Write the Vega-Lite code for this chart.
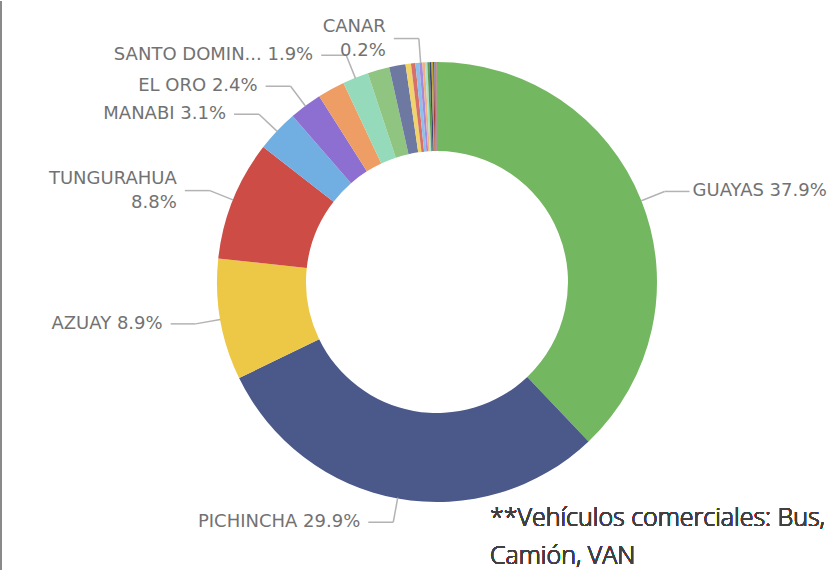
{
  "$schema": "https://vega.github.io/schema/vega-lite/v6.json",
  "width": 832,
  "height": 571,
  "autosize": {"type": "fit", "contains": "padding"},
  "padding": 0,
  "background": "white",
  "view": {"stroke": null},
  "config": {"text": {"lineBreak": "\n"}},
  "data": {
    "values": [
      {"name": "GUAYAS", "value": 37.9, "label": "GUAYAS 37.9%"},
      {"name": "PICHINCHA", "value": 29.9, "label": "PICHINCHA 29.9%"},
      {"name": "AZUAY", "value": 8.9, "label": "AZUAY 8.9%"},
      {"name": "TUNGURAHUA", "value": 8.8, "label": "TUNGURAHUA\n8.8%"},
      {"name": "MANABI", "value": 3.1, "label": "MANABI 3.1%"},
      {"name": "EL ORO", "value": 2.4, "label": "EL ORO 2.4%"},
      {"name": "LOJA", "value": 2.0, "label": ""},
      {"name": "SANTO DOMINGO", "value": 1.9, "label": "SANTO DOMIN... 1.9%"},
      {"name": "IMBABURA", "value": 1.6, "label": ""},
      {"name": "CHIMBORAZO", "value": 1.2, "label": ""},
      {"name": "COTOPAXI", "value": 0.4, "label": ""},
      {"name": "LOS RIOS", "value": 0.32, "label": ""},
      {"name": "ESMERALDAS", "value": 0.28, "label": ""},
      {"name": "CANAR", "value": 0.22, "label": "CANAR\n0.2%"},
      {"name": "SANTA ELENA", "value": 0.19, "label": ""},
      {"name": "CARCHI", "value": 0.18, "label": ""},
      {"name": "SUCUMBIOS", "value": 0.16, "label": ""},
      {"name": "ORELLANA", "value": 0.14, "label": ""},
      {"name": "BOLIVAR", "value": 0.11, "label": ""},
      {"name": "NAPO", "value": 0.1, "label": ""},
      {"name": "PASTAZA", "value": 0.09, "label": ""},
      {"name": "MORONA SANTIAGO", "value": 0.06, "label": ""},
      {"name": "ZAMORA CHINCHIPE", "value": 0.04, "label": ""}
    ]
  },
  "layer": [
    {
      "mark": {"type": "rule", "color": "#8a8a8a", "strokeWidth": 2},
      "encoding": {
        "x": {"datum": -436, "type": "quantitative", "scale": {"domain": [-437, 395], "nice": false, "zero": false}, "axis": null},
        "y": {"datum": 282, "type": "quantitative", "scale": {"domain": [-289, 282], "nice": false, "zero": false}, "axis": null},
        "y2": {"datum": -289}
      }
    },
    {
      "mark": {"type": "arc", "radius": 220, "innerRadius": 131},
      "encoding": {
        "x": {"datum": 0, "type": "quantitative", "scale": {"domain": [-437, 395], "nice": false, "zero": false}, "axis": null},
        "y": {"datum": 0, "type": "quantitative", "scale": {"domain": [-289, 282], "nice": false, "zero": false}, "axis": null},
        "theta": {"field": "value", "type": "quantitative", "stack": true},
        "order": {"field": "value", "sort": "descending"},
        "color": {
          "field": "name", "type": "nominal", "legend": null,
          "scale": {
            "domain": ["GUAYAS", "PICHINCHA", "AZUAY", "TUNGURAHUA", "MANABI", "EL ORO", "LOJA", "SANTO DOMINGO", "IMBABURA", "CHIMBORAZO", "COTOPAXI", "LOS RIOS", "ESMERALDAS", "CANAR", "SANTA ELENA", "CARCHI", "SUCUMBIOS", "ORELLANA", "BOLIVAR", "NAPO", "PASTAZA", "MORONA SANTIAGO", "ZAMORA CHINCHIPE"],
            "range": ["#73B761", "#4A588A", "#ECC846", "#CD4C46", "#71AFE2", "#8D6FD1", "#EE9E64", "#95DABB", "#8FC581", "#6E79A1", "#F0D36B", "#D7706B", "#8DBFE8", "#A48CDA", "#F1B183", "#AAE1C9", "#5C9A4E", "#3B466E", "#BDA038", "#A43D38", "#5A8CB5", "#7159A7", "#BE7E50"]
          }
        }
      }
    },
    {
      "transform": [
        {"joinaggregate": [{"op": "sum", "field": "value", "as": "total"}]},
        {"stack": "value", "groupby": [], "sort": [{"field": "value", "order": "descending"}], "as": ["c0", "c1"]},
        {"filter": "datum.label != ''"},
        {"calculate": "PI*(datum.c0+datum.c1)/datum.total", "as": "a"},
        {"calculate": "220*sin(datum.a)", "as": "px0"},
        {"calculate": "220*cos(datum.a)", "as": "py0"},
        {"calculate": "245*sin(datum.a)", "as": "px1"},
        {"calculate": "245*cos(datum.a)", "as": "py1"}
      ],
      "mark": {"type": "rule", "color": "#b3b3b3", "strokeWidth": 1.5},
      "encoding": {
        "x": {"field": "px0", "type": "quantitative", "scale": {"domain": [-437, 395], "nice": false, "zero": false}, "axis": null},
        "y": {"field": "py0", "type": "quantitative", "scale": {"domain": [-289, 282], "nice": false, "zero": false}, "axis": null},
        "x2": {"field": "px1"},
        "y2": {"field": "py1"}
      }
    },
    {
      "transform": [
        {"joinaggregate": [{"op": "sum", "field": "value", "as": "total"}]},
        {"stack": "value", "groupby": [], "sort": [{"field": "value", "order": "descending"}], "as": ["c0", "c1"]},
        {"filter": "datum.label != ''"},
        {"calculate": "PI*(datum.c0+datum.c1)/datum.total", "as": "a"},
        {"calculate": "245*sin(datum.a)", "as": "px1"},
        {"calculate": "245*cos(datum.a)", "as": "py1"},
        {"calculate": "datum.px1 + (sin(datum.a) < 0 ? -25 : 25)", "as": "px2"}
      ],
      "mark": {"type": "rule", "color": "#b3b3b3", "strokeWidth": 1.5},
      "encoding": {
        "x": {"field": "px1", "type": "quantitative", "scale": {"domain": [-437, 395], "nice": false, "zero": false}, "axis": null},
        "y": {"field": "py1", "type": "quantitative", "scale": {"domain": [-289, 282], "nice": false, "zero": false}, "axis": null},
        "x2": {"field": "px2"}
      }
    },
    {
      "transform": [
        {"joinaggregate": [{"op": "sum", "field": "value", "as": "total"}]},
        {"stack": "value", "groupby": [], "sort": [{"field": "value", "order": "descending"}], "as": ["c0", "c1"]},
        {"filter": "datum.label != ''"},
        {"calculate": "PI*(datum.c0+datum.c1)/datum.total", "as": "a"},
        {"filter": "sin(datum.a) < 0"},
        {"calculate": "245*sin(datum.a) - 33", "as": "tx"},
        {"calculate": "245*cos(datum.a) + (indexof(datum.label, '\\n') >= 0 ? 12 : 0)", "as": "ty"}
      ],
      "mark": {"type": "text", "align": "right", "baseline": "middle", "font": "DejaVu Sans", "fontSize": 18, "color": "#727272", "lineHeight": 24},
      "encoding": {
        "x": {"field": "tx", "type": "quantitative", "scale": {"domain": [-437, 395], "nice": false, "zero": false}, "axis": null},
        "y": {"field": "ty", "type": "quantitative", "scale": {"domain": [-289, 282], "nice": false, "zero": false}, "axis": null},
        "text": {"field": "label"}
      }
    },
    {
      "transform": [
        {"joinaggregate": [{"op": "sum", "field": "value", "as": "total"}]},
        {"stack": "value", "groupby": [], "sort": [{"field": "value", "order": "descending"}], "as": ["c0", "c1"]},
        {"filter": "datum.label != ''"},
        {"calculate": "PI*(datum.c0+datum.c1)/datum.total", "as": "a"},
        {"filter": "sin(datum.a) >= 0"},
        {"calculate": "245*sin(datum.a) + 28", "as": "tx"},
        {"calculate": "245*cos(datum.a)", "as": "ty"}
      ],
      "mark": {"type": "text", "align": "left", "baseline": "middle", "font": "DejaVu Sans", "fontSize": 18, "color": "#727272", "lineHeight": 24},
      "encoding": {
        "x": {"field": "tx", "type": "quantitative", "scale": {"domain": [-437, 395], "nice": false, "zero": false}, "axis": null},
        "y": {"field": "ty", "type": "quantitative", "scale": {"domain": [-289, 282], "nice": false, "zero": false}, "axis": null},
        "text": {"field": "label"}
      }
    },
    {
      "mark": {"type": "text", "align": "left", "baseline": "alphabetic", "font": "Open Sans", "fontSize": 25, "fontWeight": 300, "color": "#404040", "lineHeight": 38, "clip": true},
      "encoding": {
        "x": {"datum": 53, "type": "quantitative", "scale": {"domain": [-437, 395], "nice": false, "zero": false}, "axis": null},
        "y": {"datum": -245, "type": "quantitative", "scale": {"domain": [-289, 282], "nice": false, "zero": false}, "axis": null},
        "text": {"value": "**Vehículos comerciales: Bus,\nCamión, VAN"}
      }
    }
  ]
}
